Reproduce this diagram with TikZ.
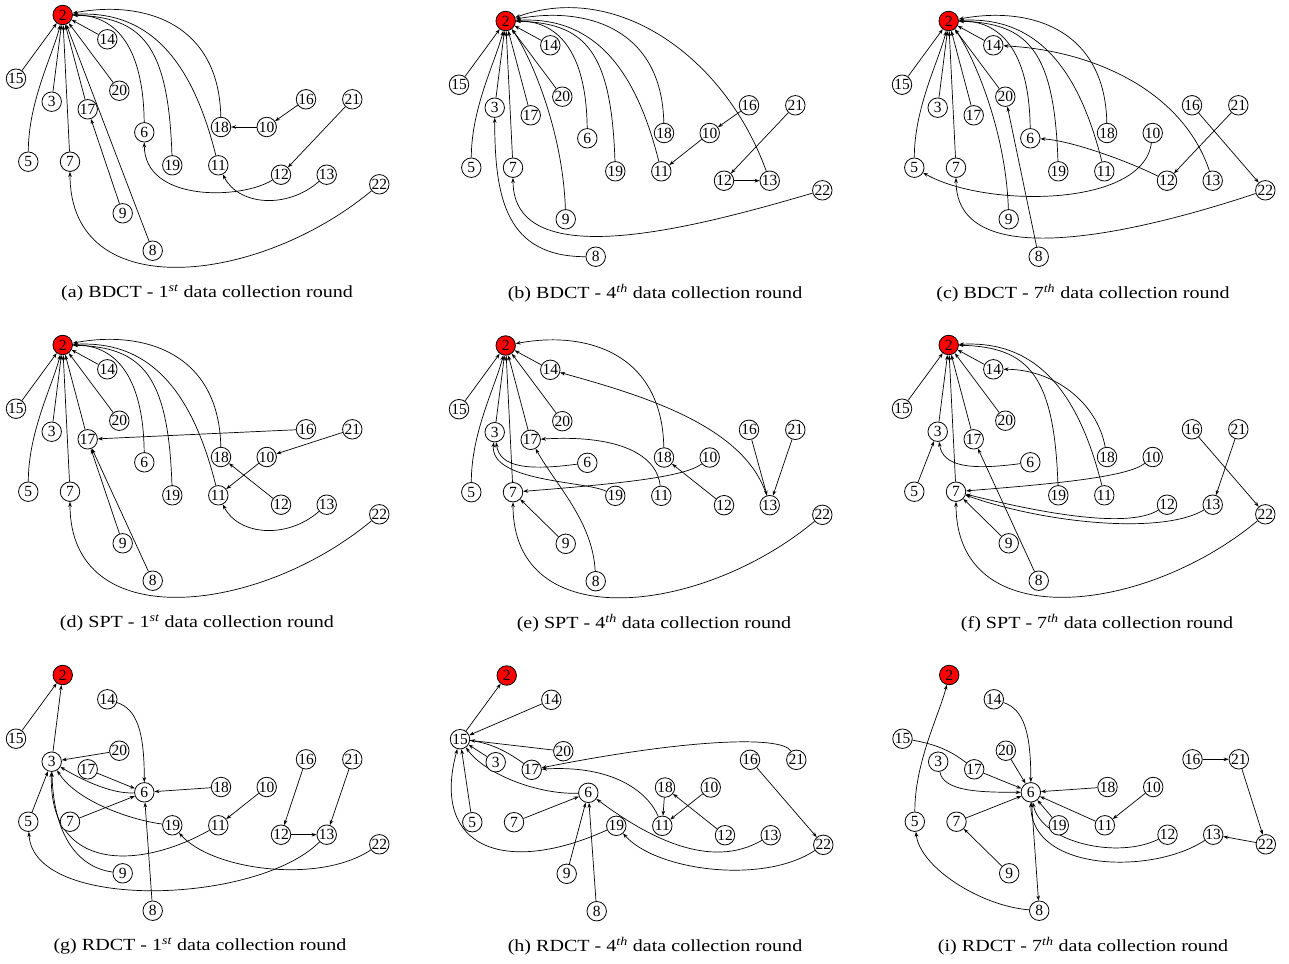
\documentclass[tikz,border=0pt]{standalone}
\usepackage{fontspec}
\setmainfont{Liberation Serif}
\usepackage{graphicx}
\usetikzlibrary{arrows.meta}
\pgfdeclarelayer{bg}
\pgfsetlayers{bg,main}
\tikzset{
  nd/.style={circle, draw=black, line width=0.8pt, fill=white, minimum size=19.5pt, inner sep=0pt, font=\fontsize{15.5}{15.5}\selectfont},
  root/.style={nd, fill=red},
  arr/.style={-{Stealth[length=5pt,width=3.6pt]}, line width=0.7pt},
  captxt/.style={font=\fontsize{17}{20}\selectfont, inner sep=0pt}
}
\newcommand\capt[1]{\scalebox{1.18}[1]{#1}}
\newcommand\allnodes{%
 \node[root] (2) at (62.7,15) {2};
 \node[nd] (3) at (51.7,101.7) {3};
 \node[nd] (5) at (28.3,161.7) {5};
 \node[nd] (6) at (144.3,132.3) {6};
 \node[nd] (7) at (70,161.7) {7};
 \node[nd] (8) at (152.7,250.7) {8};
 \node[nd] (9) at (122.7,213.3) {9};
 \node[nd] (10) at (266.7,127) {10};
 \node[nd] (11) at (218.3,165.3) {11};
 \node[nd] (12) at (281,174.7) {12};
 \node[nd] (13) at (326.7,174.7) {13};
 \node[nd] (14) at (107.3,39.3) {14};
 \node[nd] (15) at (16,78.7) {15};
 \node[nd] (16) at (306,99.3) {16};
 \node[nd] (17) at (87.7,109.3) {17};
 \node[nd] (18) at (221,127) {18};
 \node[nd] (19) at (172.3,165.3) {19};
 \node[nd] (20) at (119.3,90.7) {20};
 \node[nd] (21) at (352.3,99.3) {21};
 \node[nd] (22) at (379.3,184.3) {22};
}
\begin{document}
\begin{tikzpicture}[x=1pt,y=-1pt]
\useasboundingbox (0,0) rectangle (1289,963);
% ---------- (a)
\begin{scope}[name prefix=a-]
\allnodes
\begin{pgfonlayer}{bg}
\draw[arr] (15) -- (2);
\draw[arr] (5) .. controls +(0,-60) and +(-10,40) .. (2);
\draw[arr] (3) -- (2);
\draw[arr] (7) -- (2);
\draw[arr] (17) -- (2);
\draw[arr] (8) -- (2);
\draw[arr] (20) -- (2);
\draw[arr] (14) -- (2);
\draw[arr] (6) .. controls +(-1,-90) and +(50,0) .. (2);
\draw[arr] (19) .. controls +(-4,-120) and +(80,2) .. (2);
\draw[arr] (11) .. controls +(-25,-100) and +(90,-5) .. (2);
\draw[arr] (18) .. controls +(-2,-105) and +(80,-15) .. (2);
\draw[arr] (9) -- (17);
\draw[arr] (10) -- (18);
\draw[arr] (16) -- (10);
\draw[arr] (21) -- (12);
\draw[arr] (12) .. controls +(-40,25) and +(0,70) .. (6);
\draw[arr] (13) .. controls +(-40,35) and +(20,40) .. (11);
\draw[arr] (22) .. controls +(-120,100) and +(0,145) .. (7);
\end{pgfonlayer}
\end{scope}
% ---------- (b)
\begin{scope}[shift={(443,6)},name prefix=b-]
\allnodes
\begin{pgfonlayer}{bg}
\draw[arr] (15) -- (2);
\draw[arr] (5) .. controls +(0,-60) and +(-10,40) .. (2);
\draw[arr] (3) -- (2);
\draw[arr] (7) -- (2);
\draw[arr] (17) -- (2);
\draw[arr] (20) -- (2);
\draw[arr] (14) -- (2);
\draw[arr] (9) .. controls +(-3,-93) and +(22,30) .. (2);
\draw[arr] (6) .. controls +(-1,-90) and +(50,0) .. (2);
\draw[arr] (19) .. controls +(-4,-120) and +(80,2) .. (2);
\draw[arr] (11) .. controls +(-25,-100) and +(90,-5) .. (2);
\draw[arr] (18) .. controls +(-2,-105) and +(80,-15) .. (2);
\draw[arr] (13) .. controls +(-45,-125) and +(110,-40) .. (2);
\draw[arr] (16) -- (10);
\draw[arr] (10) -- (11);
\draw[arr] (21) -- (12);
\draw[arr] (12) -- (13);
\draw[arr] (22) .. controls +(-120,35) and +(0,110) .. (7);
\draw[arr] (8) .. controls +(-90,0) and +(0,90) .. (3);
\end{pgfonlayer}
\end{scope}
% ---------- (c)
\begin{scope}[shift={(886,6)},name prefix=c-]
\allnodes
\begin{pgfonlayer}{bg}
\draw[arr] (15) -- (2);
\draw[arr] (5) .. controls +(0,-60) and +(-10,40) .. (2);
\draw[arr] (3) -- (2);
\draw[arr] (7) -- (2);
\draw[arr] (17) -- (2);
\draw[arr] (20) -- (2);
\draw[arr] (14) -- (2);
\draw[arr] (9) .. controls +(-3,-93) and +(22,30) .. (2);
\draw[arr] (6) .. controls +(-1,-90) and +(50,0) .. (2);
\draw[arr] (19) .. controls +(-4,-120) and +(80,2) .. (2);
\draw[arr] (11) .. controls +(-25,-100) and +(90,-5) .. (2);
\draw[arr] (18) .. controls +(-2,-105) and +(80,-15) .. (2);
\draw[arr] (13) .. controls +(-30,-90) and +(100,5) .. (14);
\draw[arr] (8) -- (20);
\draw[arr] (12) .. controls +(-40,-20) and +(40,2) .. (6);
\draw[arr] (10) .. controls +(-10,75) and +(70,40) .. (5);
\draw[arr] (21) -- (12);
\draw[arr] (16) -- (22);
\draw[arr] (22) .. controls +(-120,40) and +(0,110) .. (7);
\end{pgfonlayer}
\end{scope}
% ---------- (d)
\begin{scope}[shift={(0,330)},name prefix=d-]
\allnodes
\begin{pgfonlayer}{bg}
\draw[arr] (15) -- (2);
\draw[arr] (5) .. controls +(0,-60) and +(-10,40) .. (2);
\draw[arr] (3) -- (2);
\draw[arr] (7) -- (2);
\draw[arr] (17) -- (2);
\draw[arr] (20) -- (2);
\draw[arr] (14) -- (2);
\draw[arr] (6) .. controls +(-1,-90) and +(50,0) .. (2);
\draw[arr] (19) .. controls +(-4,-120) and +(80,2) .. (2);
\draw[arr] (11) .. controls +(-25,-100) and +(90,-5) .. (2);
\draw[arr] (18) .. controls +(-2,-105) and +(80,-15) .. (2);
\draw[arr] (16) -- (17);
\draw[arr] (9) -- (17);
\draw[arr] (8) -- (17);
\draw[arr] (21) -- (10);
\draw[arr] (10) -- (11);
\draw[arr] (12) -- (18);
\draw[arr] (13) .. controls +(-40,35) and +(20,40) .. (11);
\draw[arr] (22) .. controls +(-120,100) and +(0,145) .. (7);
\end{pgfonlayer}
\end{scope}
% ---------- (e)
\begin{scope}[shift={(443,330.5)},name prefix=e-]
\allnodes
\begin{pgfonlayer}{bg}
\draw[arr] (15) -- (2);
\draw[arr] (5) .. controls +(0,-60) and +(-10,40) .. (2);
\draw[arr] (3) -- (2);
\draw[arr] (7) -- (2);
\draw[arr] (17) -- (2);
\draw[arr] (20) -- (2);
\draw[arr] (14) -- (2);
\draw[arr] (18) .. controls +(-2,-105) and +(80,-15) .. (2);
\draw[arr] (13) .. controls +(-25,-80) and +(90,25) .. (14);
\draw[arr] (6) .. controls +(-60,8) and +(5,35) .. (3);
\draw[arr] (19) .. controls +(-30,-15) and +(-5,50) .. (3);
\draw[arr] (11) .. controls +(-5,-45) and +(80,-5) .. (17);
\draw[arr] (10) .. controls +(-25,20) and +(100,-8) .. (7);
\draw[arr] (8) .. controls +(-3,-60) and +(25,45) .. (17);
\draw[arr] (12) -- (18);
\draw[arr] (16) -- (13);
\draw[arr] (21) -- (13);
\draw[arr] (9) -- (7);
\draw[arr] (22) .. controls +(-120,100) and +(0,145) .. (7);
\end{pgfonlayer}
\end{scope}
% ---------- (f)
\begin{scope}[shift={(886,330)},name prefix=f-]
\allnodes
\begin{pgfonlayer}{bg}
\draw[arr] (15) -- (2);
\draw[arr] (3) -- (2);
\draw[arr] (7) -- (2);
\draw[arr] (17) -- (2);
\draw[arr] (20) -- (2);
\draw[arr] (14) -- (2);
\draw[arr] (19) .. controls +(-4,-120) and +(80,2) .. (2);
\draw[arr] (11) .. controls +(-25,-100) and +(90,-5) .. (2);
\draw[arr] (18) .. controls +(-10,-55) and +(60,0) .. (14);
\draw[arr] (5) -- (3);
\draw[arr] (6) .. controls +(-60,8) and +(5,35) .. (3);
\draw[arr] (10) .. controls +(-25,20) and +(100,-8) .. (7);
\draw[arr] (12) .. controls +(-40,25) and +(80,20) .. (7);
\draw[arr] (13) .. controls +(-50,30) and +(90,32) .. (7);
\draw[arr] (9) -- (7);
\draw[arr] (8) -- (17);
\draw[arr] (16) -- (22);
\draw[arr] (21) -- (13);
\draw[arr] (22) .. controls +(-120,100) and +(0,145) .. (7);
\end{pgfonlayer}
\end{scope}
% ---------- (g)
\begin{scope}[shift={(0,660)},name prefix=g-]
\allnodes
\begin{pgfonlayer}{bg}
\draw[arr] (15) -- (2);
\draw[arr] (3) -- (2);
\draw[arr] (20) -- (3);
\draw[arr] (5) -- (3);
\draw[arr] (17) -- (6);
\draw[arr] (7) -- (6);
\draw[arr] (18) -- (6);
\draw[arr] (8) -- (6);
\draw[arr] (10) -- (11);
\draw[arr] (16) -- (12);
\draw[arr] (21) -- (13);
\draw[arr] (12) -- (13);
\draw[arr] (14) .. controls +(30,10) and +(0,-60) .. (6);
\draw[arr] (6) .. controls +(-35,2) and +(25,15) .. (3);
\draw[arr] (19) .. controls +(-40,-5) and +(25,40) .. (3);
\draw[arr] (11) .. controls +(-80,45) and +(-3,110) .. (3);
\draw[arr] (9) .. controls +(-40,-5) and +(2,80) .. (3);
\draw[arr] (13) .. controls +(-70,70) and +(5,90) .. (5);
\draw[arr] (22) .. controls +(-60,40) and +(40,45) .. (19);
\end{pgfonlayer}
\end{scope}
% ---------- (h)
\begin{scope}[shift={(444,660.5)},name prefix=h-]
\allnodes
\begin{pgfonlayer}{bg}
\draw[arr] (15) -- (2);
\draw[arr] (14) -- (15);
\draw[arr] (20) -- (15);
\draw[arr] (3) -- (15);
\draw[arr] (5) -- (15);
\draw[arr] (7) -- (6);
\draw[arr] (9) -- (6);
\draw[arr] (8) -- (6);
\draw[arr] (18) -- (11);
\draw[arr] (10) -- (11);
\draw[arr] (12) -- (18);
\draw[arr] (16) -- (22);
\draw[arr] (17) to[bend right=15] (15);
\draw[arr] (6) .. controls +(-50,2) and +(25,35) .. (15);
\draw[arr] (19) .. controls +(-110,50) and +(-30,110) .. (15);
\draw[arr] (21) .. controls +(-15,-25) and +(150,-30) .. (17);
\draw[arr] (11) .. controls +(-15,-35) and +(80,-5) .. (17);
\draw[arr] (13) .. controls +(-60,35) and +(60,45) .. (6);
\draw[arr] (22) .. controls +(-60,40) and +(40,45) .. (19);
\end{pgfonlayer}
\end{scope}
% ---------- (i)
\begin{scope}[shift={(886.5,660)},name prefix=i-]
\allnodes
\begin{pgfonlayer}{bg}
\draw[arr] (5) .. controls +(0,-60) and +(-10,40) .. (2);
\draw[arr] (14) .. controls +(30,10) and +(0,-60) .. (6);
\draw[arr] (15) to[bend left=15] (17);
\draw[arr] (20) -- (6);
\draw[arr] (17) -- (6);
\draw[arr] (7) -- (6);
\draw[arr] (18) -- (6);
\draw[arr] (10) -- (11);
\draw[arr] (11) -- (6);
\draw[arr] (19) -- (6);
\draw[arr] (6) -- (8);
\draw[arr] (9) -- (7);
\draw[arr] (16) -- (21);
\draw[arr] (21) -- (22);
\draw[arr] (22) -- (13);
\draw[arr] (3) .. controls +(5,30) and +(-50,0) .. (6);
\draw[arr] (12) .. controls +(-50,25) and +(10,50) .. (6);
\draw[arr] (13) .. controls +(-60,40) and +(0,80) .. (6);
\draw[arr] (8) .. controls +(-60,-5) and +(5,45) .. (5);
\end{pgfonlayer}
\end{scope}
% ---------- captions
\node[captxt] (capa) at (207,293) {\capt{(a) BDCT - 1\textsuperscript{\itshape st} data collection round}};
\node[captxt] (capb) at (655,293) {\capt{(b) BDCT - 4\textsuperscript{\itshape th} data collection round}};
\node[captxt] (capc) at (1083,293) {\capt{(c) BDCT - 7\textsuperscript{\itshape th} data collection round}};
\node[captxt] (capd) at (197,623) {\capt{(d) SPT - 1\textsuperscript{\itshape st} data collection round}};
\node[captxt] (cape) at (654,623) {\capt{(e) SPT - 4\textsuperscript{\itshape th} data collection round}};
\node[captxt] (capf) at (1097,623) {\capt{(f) SPT - 7\textsuperscript{\itshape th} data collection round}};
\node[captxt] (capg) at (200,946) {\capt{(g) RDCT - 1\textsuperscript{\itshape st} data collection round}};
\node[captxt] (caph) at (655,946) {\capt{(h) RDCT - 4\textsuperscript{\itshape th} data collection round}};
\node[captxt] (capi) at (1083,946) {\capt{(i) RDCT - 7\textsuperscript{\itshape th} data collection round}};
\end{tikzpicture}
\end{document}
